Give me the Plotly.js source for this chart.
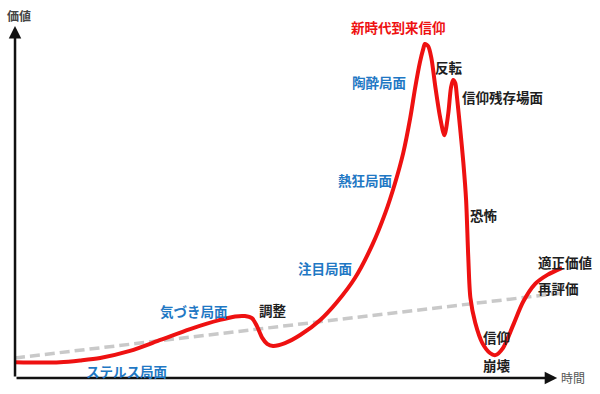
<!DOCTYPE html>
<html>
<head>
<meta charset="utf-8">
<script src="https://cdn.plot.ly/plotly-3.0.1.min.js"></script>
<style>html,body{margin:0;padding:0;background:#fff;}#chart{width:600px;height:394px;}</style>
</head>
<body>
<div id="chart"></div>
<script>
// bubble-cycle curve: time (0-100) vs value (0-100)
const bubbleTime = [0,4.6,8.3,12.0,15.7,21.2,26.8,32.3,37.8,40.6,42.4,43.7,44.6,45.6,46.5,47.6,49.8,52.6,56.3,59.4,62.7,65.9,68.3,70.1,71.6,72.9,73.8,74.7,75.3,75.6,76.2,76.8,77.5,78.4,79.2,79.9,80.4,80.8,81.2,81.5,82.1,82.7,83.2,83.6,84.0,84.9,86.2,87.6,88.6,90.0,91.9,93.7,95.9,98.2,100.9];
const bubbleValue = [4.5,4.4,4.5,5.0,5.7,7.7,10.8,13.9,16.5,17.5,17.6,17.0,14.8,11.4,9.7,9.1,9.9,12.2,16.5,21.6,28.4,37.8,46.9,55.4,63.9,73.9,82.4,89.8,93.5,94.9,94.3,90.9,83.0,74.1,69.0,75.0,82.4,84.7,83.8,80.1,71.0,61.1,50.6,34.4,22.7,15.6,9.9,7.1,6.5,8.5,15.1,21.6,26.7,29.3,31.3];
// fundamental value trend
const trendTime = [0, 100.6];
const trendValue = [5.7, 24.1];

// phase labels
const phaseLabels = ['ステルス局面','気づき局面','注目局面','熱狂局面','陶酔局面'];
const phaseX = [20.5, 33.0, 57.2, 64.6, 67.2];
const phaseY = [2.0, 19.0, 31.3, 56.3, 84.1];
// event labels
const eventLabels = ['調整','反転','信仰残存場面','恐怖','信仰','崩壊','再評価','適正価値'];
const eventX = [47.6, 80.1, 89.9, 86.5, 88.9, 88.9, 100.2, 101.5];
const eventY = [19.3, 88.4, 79.8, 46.3, 11.6, 3.7, 25.6, 33.0];
// peak label
const peakLabel = '新時代到来信仰';
const peakX = 70.8, peakY = 99.7;
// axis labels
const yAxisLabel = '価値';
const xAxisLabel = '時間';

const FONT = '"Noto Sans CJK JP", "Noto Sans", sans-serif';
const BLUE = '#1f78c4', BLACK = '#1e1e1e', RED = '#ee1111';

const traces = [
  {x: trendTime, y: trendValue, mode: 'lines', line: {color: '#c9c9c9', width: 3.5, dash: '10px,5px'}, hoverinfo: 'skip'},
  {x: bubbleTime, y: bubbleValue, mode: 'lines', line: {color: RED, width: 4, shape: 'spline', smoothing: 0.8}, hoverinfo: 'skip'}
];

const ann = [];
// axes arrows
ann.push({x: 100, y: 0, ax: 0, ay: 0, xref: 'x', yref: 'y', axref: 'x', ayref: 'y', text: '', showarrow: true, arrowhead: 2, arrowsize: 1, arrowwidth: 2.5, arrowcolor: '#111'});
ann.push({x: 0, y: 100, ax: 0, ay: 0, xref: 'x', yref: 'y', axref: 'x', ayref: 'y', text: '', showarrow: true, arrowhead: 2, arrowsize: 1, arrowwidth: 2.5, arrowcolor: '#111'});
ann.push({x: 0.74, y: 103.1, text: '<b>' + yAxisLabel + '</b>', showarrow: false, font: {family: FONT, size: 12, color: '#444'}});
ann.push({x: 103.0, y: 0.28, text: xAxisLabel, showarrow: false, font: {family: FONT, size: 12, color: '#555'}});
phaseLabels.forEach((t, i) => ann.push({x: phaseX[i], y: phaseY[i], text: '<b>' + t + '</b>', showarrow: false, font: {family: FONT, size: 13.5, color: BLUE}}));
eventLabels.forEach((t, i) => ann.push({x: eventX[i], y: eventY[i], text: '<b>' + t + '</b>', showarrow: false, font: {family: FONT, size: 13.5, color: BLACK}}));
ann.push({x: peakX, y: peakY, text: '<b>' + peakLabel + '</b>', showarrow: false, font: {family: FONT, size: 13.5, color: RED}});

const layout = {
  width: 600, height: 394,
  margin: {l: 0, r: 0, t: 0, b: 0},
  paper_bgcolor: '#fff', plot_bgcolor: '#fff',
  showlegend: false,
  xaxis: {range: [-2.77, 107.9], visible: false, fixedrange: true},
  yaxis: {range: [-4.55, 107.4], visible: false, fixedrange: true},
  annotations: ann
};
Plotly.newPlot('chart', traces, layout, {staticPlot: true, displayModeBar: false});
</script>
</body>
</html>
